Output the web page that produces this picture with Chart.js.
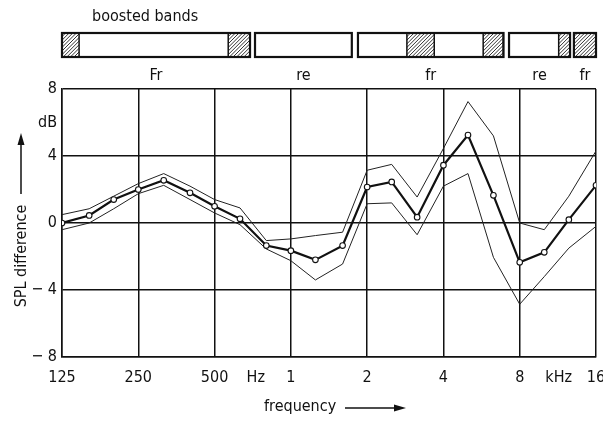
<!DOCTYPE html>
<html>
<head>
<meta charset="utf-8">
<script src="https://cdn.jsdelivr.net/npm/chart.js@4/dist/chart.umd.min.js"></script>
<style>
  html, body { margin: 0; padding: 0; background: #fff; }
  #wrap { width: 603px; height: 423px; }
</style>
</head>
<body>
<div id="wrap"><canvas id="splChart" width="603" height="423"></canvas></div>
<script>
// third-octave centre frequencies (Hz)
const frequencies = [125, 160, 200, 250, 315, 400, 500, 630, 800, 1000, 1250, 1600,
  2000, 2500, 3150, 4000, 5000, 6300, 8000, 10000, 12500, 16000];

// SPL difference in dB: mean and the upper / lower spread curves
const meanDiff  = [0, 0.45, 1.4, 2.0, 2.55, 1.8, 1.0, 0.25, -1.35, -1.65, -2.2, -1.35,
  2.15, 2.45, 0.35, 3.45, 5.25, 1.65, -2.35, -1.75, 0.2, 2.25];
const upperDiff = [0.5, 0.85, 1.6, 2.35, 2.95, 2.2, 1.4, 0.9, -1.05, -0.95, -0.75, -0.55,
  3.15, 3.5, 1.55, 4.45, 7.25, 5.2, 0.0, -0.4, 1.6, 4.3];
const lowerDiff = [-0.4, 0.0, 0.85, 1.75, 2.25, 1.4, 0.6, -0.1, -1.55, -2.25, -3.4, -2.45,
  1.15, 1.2, -0.7, 2.2, 2.95, -2.05, -4.85, -3.2, -1.5, -0.2];

// axis ticks; 'Hz', 'kHz' and 'dB' are unit labels without a grid line
const xTickValues = [125, 250, 500, 727, 1000, 2000, 4000, 8000, 11400, 16000];
const xTickLabels = ['125', '250', '500', 'Hz', '1', '2', '4', '8', 'kHz', '16'];
const yTickValues = [-8, -4, 0, 4, 6, 8];
const yTickLabels = ['\u2212 8', '\u2212 4', '0', '4', 'dB', '8'];
const unitTicksX = [727, 11400];
const unitTicksY = [6];

// boosted bands strip (Hz): boxes, their names and hatched parts
const bandBoxes = [[125, 690], [722, 1740], [1840, 6900], [7260, 12640], [13090, 16000]];
const bandNames = ['Fr', 're', 'fr', 're', 'fr'];
const hatchedParts = [[125, 146], [566, 690], [2870, 3680], [5740, 6900], [11400, 12640], [13090, 16000]];

const FONT = "'Liberation Sans Narrow', 'DejaVu Sans Condensed', sans-serif";
const INK = '#111';

function drawArrow(ctx, x0, y0, x1, y1) {
  const ang = Math.atan2(y1 - y0, x1 - x0);
  const len = 12, half = 3.5;
  ctx.beginPath();
  ctx.moveTo(x0, y0);
  ctx.lineTo(x1 - Math.cos(ang) * len, y1 - Math.sin(ang) * len);
  ctx.lineWidth = 1.5;
  ctx.stroke();
  ctx.beginPath();
  ctx.moveTo(x1, y1);
  ctx.lineTo(x1 - Math.cos(ang) * len - Math.sin(ang) * half, y1 - Math.sin(ang) * len + Math.cos(ang) * half);
  ctx.lineTo(x1 - Math.cos(ang) * len + Math.sin(ang) * half, y1 - Math.sin(ang) * len - Math.cos(ang) * half);
  ctx.closePath();
  ctx.fill();
}

const decorPlugin = {
  id: 'decor',
  afterDraw(chart) {
    const ctx = chart.ctx;
    const ca = chart.chartArea;
    const xs = chart.scales.x;
    ctx.save();
    ctx.strokeStyle = INK;
    ctx.fillStyle = INK;

    // strip of boosted bands above the plot
    const top = ca.top - 56, h = 24;
    hatchedParts.forEach(([f0, f1]) => {
      const x0 = xs.getPixelForValue(f0), x1 = xs.getPixelForValue(f1);
      ctx.save();
      ctx.beginPath();
      ctx.rect(x0, top, x1 - x0, h);
      ctx.clip();
      ctx.lineWidth = 1;
      ctx.strokeStyle = '#333';
      for (let k = x0 - h; k < x1; k += 3.6) {
        ctx.beginPath();
        ctx.moveTo(k, top + h);
        ctx.lineTo(k + h, top);
        ctx.stroke();
      }
      ctx.restore();
      ctx.lineWidth = 1.5;
      ctx.strokeRect(x0, top, x1 - x0, h);
    });
    ctx.lineWidth = 2.2;
    ctx.font = '16px ' + FONT;
    ctx.textAlign = 'center';
    ctx.textBaseline = 'middle';
    bandBoxes.forEach(([f0, f1], i) => {
      const x0 = xs.getPixelForValue(f0), x1 = xs.getPixelForValue(f1);
      ctx.strokeRect(x0, top, x1 - x0, h);
      ctx.fillText(bandNames[i], (x0 + x1) / 2, ca.top - 13);
    });
    ctx.textAlign = 'left';
    ctx.fillText('boosted bands', ca.left + 30, top - 16);

    // axis titles with arrows
    ctx.fillText('frequency', ca.left + 202, ca.bottom + 50);
    drawArrow(ctx, ca.left + 283, ca.bottom + 51, ca.left + 344, ca.bottom + 51);

    ctx.save();
    ctx.translate(22, ca.top + 167);
    ctx.rotate(-Math.PI / 2);
    ctx.textAlign = 'center';
    ctx.fillText('SPL difference', 0, 0);
    ctx.restore();
    drawArrow(ctx, 21, ca.top + 105, 21, ca.top + 44);
    ctx.restore();
  }
};

const ctx = document.getElementById('splChart').getContext('2d');
const splChart = new Chart(ctx, {
  type: 'line',
  data: {
    labels: frequencies,
    datasets: [
      {
        label: 'mean',
        data: frequencies.map((f, i) => ({ x: f, y: meanDiff[i] })),
        borderColor: INK,
        borderWidth: 2.2,
        pointRadius: 2.8,
        pointBackgroundColor: '#fff',
        pointBorderColor: INK,
        pointBorderWidth: 1.1,
        tension: 0
      },
      {
        label: 'upper',
        data: frequencies.map((f, i) => ({ x: f, y: upperDiff[i] })),
        borderColor: '#222',
        borderWidth: 1,
        pointRadius: 0,
        tension: 0
      },
      {
        label: 'lower',
        data: frequencies.map((f, i) => ({ x: f, y: lowerDiff[i] })),
        borderColor: '#222',
        borderWidth: 1,
        pointRadius: 0,
        tension: 0
      }
    ]
  },
  options: {
    responsive: false,
    animation: false,
    devicePixelRatio: 1,
    layout: { padding: { top: 89, right: 7, bottom: 0, left: 0 } },
    plugins: {
      legend: { display: false },
      tooltip: { enabled: false }
    },
    scales: {
      x: {
        type: 'logarithmic',
        min: 125,
        max: 16000,
        afterBuildTicks: (scale) => {
          scale.ticks = xTickValues.map(v => ({ value: v }));
        },
        afterFit: (scale) => {
          scale.height = 66;
          scale.paddingLeft = 0;
          scale.paddingRight = 0;
        },
        grid: {
          color: (c) => (c.tick && unitTicksX.includes(c.tick.value)) ? 'rgba(0,0,0,0)' : INK,
          lineWidth: 1.5,
          drawTicks: false
        },
        border: { color: INK, width: 1.5 },
        ticks: {
          autoSkip: false,
          maxRotation: 0,
          padding: 11,
          color: INK,
          font: { family: FONT, size: 16 },
          callback: (v, i) => xTickLabels[i]
        }
      },
      y: {
        type: 'linear',
        min: -8,
        max: 8,
        afterBuildTicks: (scale) => {
          scale.ticks = yTickValues.map(v => ({ value: v }));
        },
        afterFit: (scale) => {
          scale.width = 62;
          scale.paddingTop = 0;
          scale.paddingBottom = 0;
        },
        grid: {
          color: (c) => (c.tick && unitTicksY.includes(c.tick.value)) ? 'rgba(0,0,0,0)' : INK,
          lineWidth: 1.5,
          drawTicks: false
        },
        border: { color: INK, width: 1.5 },
        ticks: {
          padding: 5,
          color: INK,
          font: { family: FONT, size: 16 },
          callback: (v, i) => yTickLabels[i]
        }
      }
    }
  },
  plugins: [decorPlugin]
});
</script>
</body>
</html>
